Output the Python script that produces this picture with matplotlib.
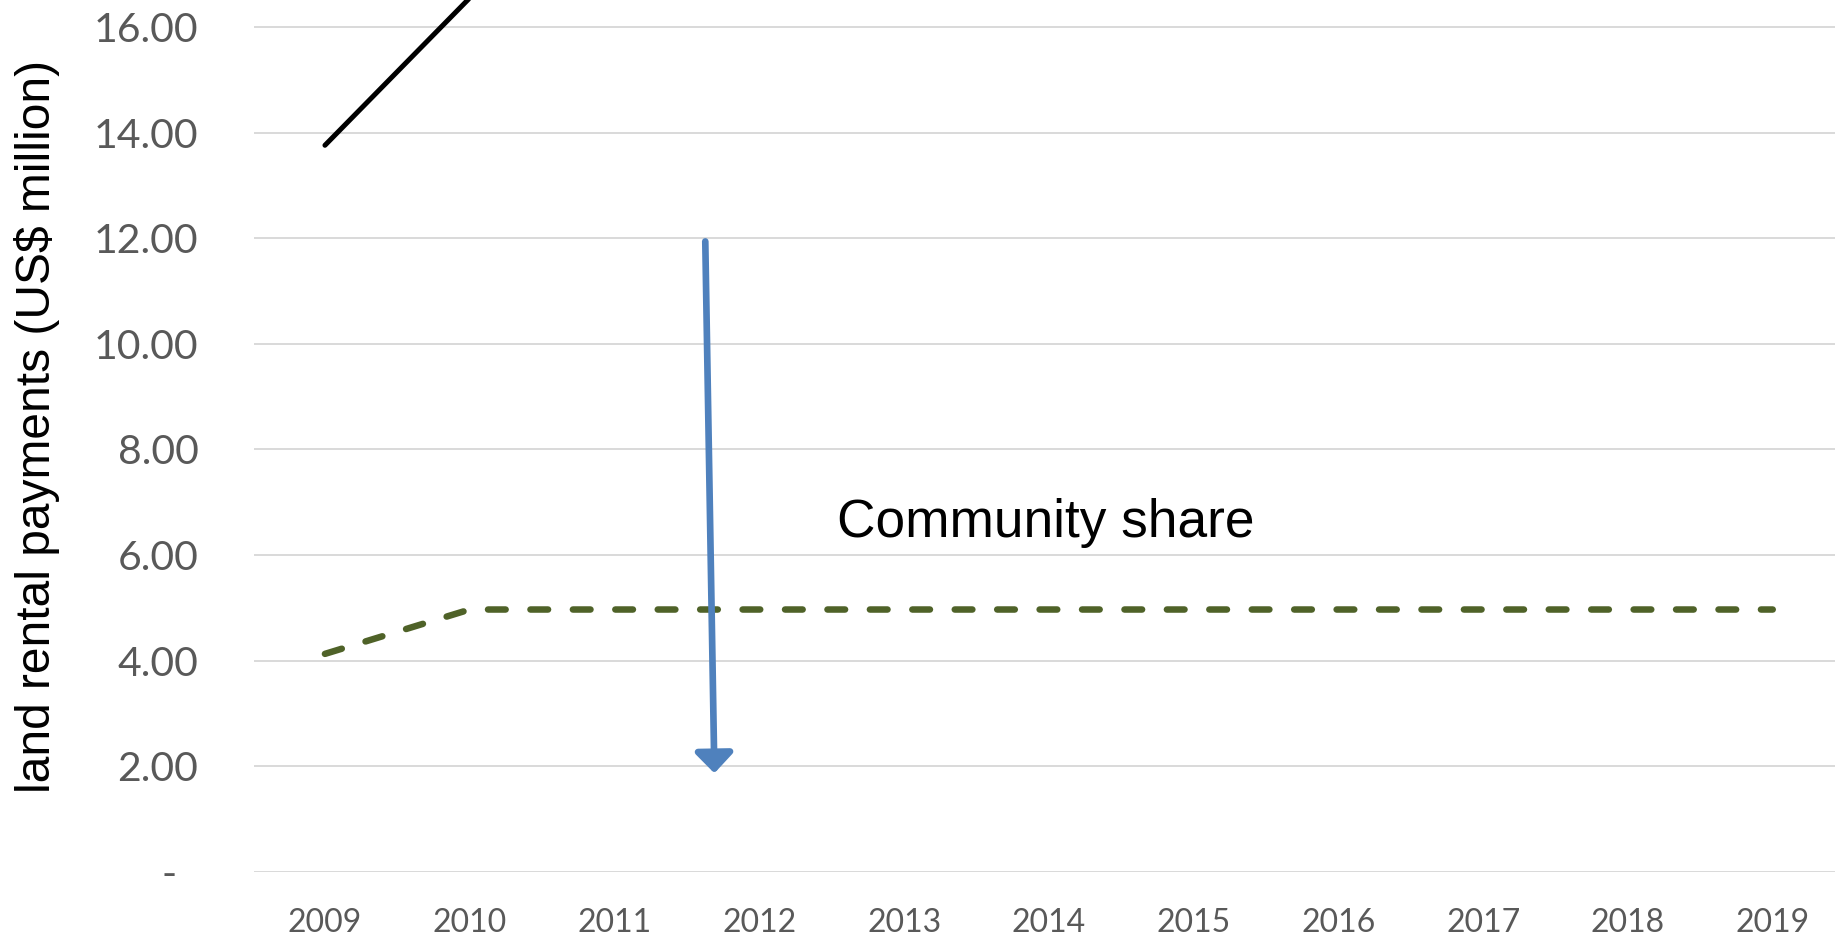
import matplotlib
matplotlib.use("Agg")
import matplotlib.pyplot as plt
from matplotlib.transforms import ScaledTranslation

years = ["2009", "2010", "2011", "2012", "2013", "2014", "2015", "2016", "2017", "2018", "2019"]
total_rent = [13.76, 16.55]          # black line, runs off the top after 2010
community_share = [4.13, 4.97, 4.97, 4.97, 4.97, 4.97, 4.97, 4.97, 4.97, 4.97, 4.97]
yticks = [0, 2, 4, 6, 8, 10, 12, 14, 16]
ytick_labels = ["-", "2.00", "4.00", "6.00", "8.00", "10.00", "12.00", "14.00", "16.00"]

# arrow and label positions (category index, value)
arrow_from = (2.627, 11.94)
arrow_to = (2.69, 1.87)
label_pos = (3.536, 6.34)

fig = plt.figure(figsize=(18.35, 9.39), dpi=100)
ax = fig.add_axes([254 / 1835, 1 - 872 / 939, 1 - 254 / 1835, 872 / 939])

x = list(range(len(years)))
ax.plot(x[:len(total_rent)], total_rent, color="black", lw=3.6, solid_capstyle="round", zorder=3)
ax.plot(x, community_share, color="#4F6228", lw=4.7, dashes=(2.7, 3.8),
        dash_capstyle="round", zorder=3)

ax.annotate("", xy=arrow_to, xytext=arrow_from,
            arrowprops=dict(arrowstyle="-|>,head_length=12,head_width=11.5",
                            mutation_scale=1, color="#4F81BD", lw=4.8,
                            shrinkA=0, shrinkB=0, joinstyle="round"),
            zorder=4)
ax.text(label_pos[0], label_pos[1], "Community share", fontsize=38.3,
        family="Liberation Sans", color="black", ha="left", va="baseline")

ax.set_xlim(-0.49, 10.43)
ax.set_ylim(0, 16.511)
ax.set_xticks(x)
ax.set_xticklabels(years, family="Lato", fontsize=23, color="#595959")
ax.set_yticks(yticks)
ax.set_yticklabels(ytick_labels, family="Lato", fontsize=29.5, color="#595959")
ax.tick_params(axis="both", length=0)
ax.tick_params(axis="x", pad=26)
ax.tick_params(axis="y", pad=40)
lab0 = ax.get_yticklabels()[0]
lab0.set_transform(lab0.get_transform() + ScaledTranslation(-0.22, 0, fig.dpi_scale_trans))

ax.grid(axis="y", color="#D9D9D9", lw=1.4)
ax.set_axisbelow(True)
for s in ax.spines.values():
    s.set_visible(False)

ax.set_ylabel("land rental payments (US$ million)", family="Liberation Sans",
              fontsize=34.5, color="black", va="center")
ax.yaxis.set_label_coords((37 - 254) / 1581, (939 - 426 - 67) / 872)

fig.savefig("out.png", dpi=100)
